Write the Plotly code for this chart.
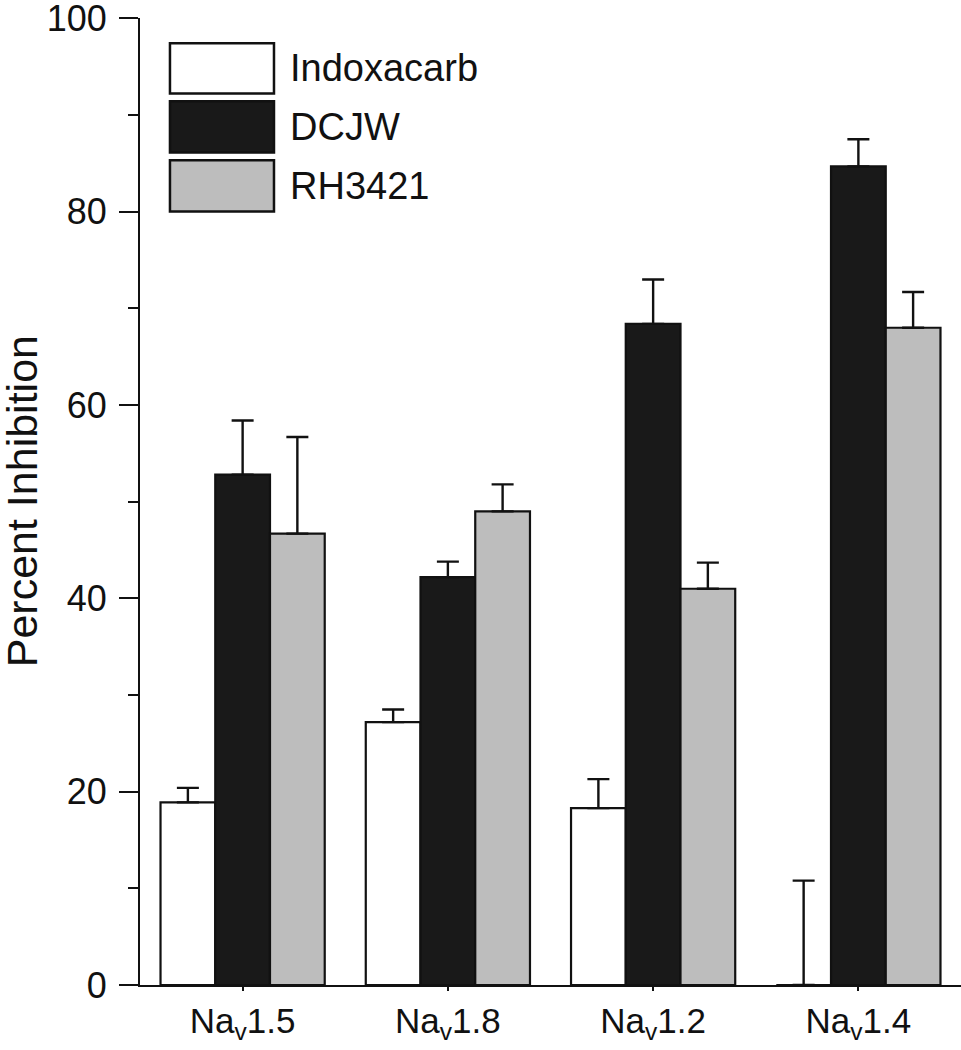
import plotly.graph_objects as go

categories = ["Na<sub>v</sub>1.5", "Na<sub>v</sub>1.8", "Na<sub>v</sub>1.2", "Na<sub>v</sub>1.4"]
series_names = ["Indoxacarb", "DCJW", "RH3421"]
indoxacarb = [18.9, 27.2, 18.3, 0.0]
indoxacarb_err = [1.5, 1.3, 3.0, 10.8]
dcjw = [52.8, 42.2, 68.4, 84.7]
dcjw_err = [5.6, 1.6, 4.6, 2.8]
rh3421 = [46.7, 49.0, 41.0, 68.0]
rh3421_err = [10.0, 2.8, 2.7, 3.7]
colors = ["#ffffff", "#191919", "#bdbdbd"]
y_ticks = [0, 20, 40, 60, 80, 100]
y_title = "Percent Inhibition"

FONT = "Liberation Sans, Arial, Helvetica, sans-serif"

fig = go.Figure()
for name, vals, errs, col in zip(series_names, [indoxacarb, dcjw, rh3421],
                                 [indoxacarb_err, dcjw_err, rh3421_err], colors):
    fig.add_trace(go.Bar(
        x=categories, y=vals, name=name,
        marker=dict(color=col, line=dict(color="#111111", width=2.2)),
        error_y=dict(type="data", array=errs, symmetric=False, arrayminus=[0]*len(errs),
                     color="#111111", thickness=2.4, width=11),
        showlegend=False,
    ))

# legend drawn as large boxes like the original figure
legend_boxes = [(0.974, 0.922), (0.914, 0.861), (0.853, 0.800)]
for (y1, y0), col, name in zip(legend_boxes, colors, series_names):
    fig.add_shape(type="rect", xref="paper", yref="paper", x0=0.0365, x1=0.1632,
                  y0=y0, y1=y1, fillcolor=col, line=dict(color="#111111", width=2.5))
    fig.add_annotation(xref="paper", yref="paper", x=0.180, y=(y0 + y1) / 2,
                       text=name, showarrow=False, xanchor="left", yanchor="middle",
                       font=dict(family=FONT, size=38, color="#111111"))

# y-axis title placed as rotated text at the far left, like the original
fig.add_annotation(xref="paper", yref="paper", x=-0.144, y=0.5, text=y_title,
                   textangle=-90, showarrow=False, xanchor="center", yanchor="middle",
                   font=dict(family=FONT, size=43, color="#111111"))

fig.update_layout(
    width=961, height=1050,
    margin=dict(l=140, r=0, t=18, b=65),
    plot_bgcolor="white", paper_bgcolor="white",
    barmode="group", bargap=0.2, bargroupgap=0,
    font=dict(family=FONT, color="#111111"),
    xaxis=dict(
        range=[-0.5, 3.5], showline=True, linecolor="#111111", linewidth=2,
        ticks="outside", ticklen=4, tickwidth=1.5, tickcolor="#111111",
        tickfont=dict(size=35, family=FONT), showgrid=False, zeroline=False,
        ticklabelstandoff=0, automargin=False, ticklabeloverflow="allow",
    ),
    yaxis=dict(
        range=[0, 100.05], tickvals=y_ticks, showline=True, linecolor="#111111", linewidth=2,
        ticks="outside", ticklen=19, tickwidth=2, tickcolor="#111111",
        minor=dict(tickvals=[10, 30, 50, 70, 90], ticks="outside", ticklen=10, tickwidth=2,
                   tickcolor="#111111"),
        tickfont=dict(size=36, family=FONT), showgrid=False, zeroline=False,
        ticklabelstandoff=5, automargin=False, ticklabeloverflow="allow",
    ),
)

# remove the default 8px page margin so the figure fills the window exactly
fig.write_html("out.html", config={"displayModeBar": False},
               post_script="document.body.style.margin='0';")
